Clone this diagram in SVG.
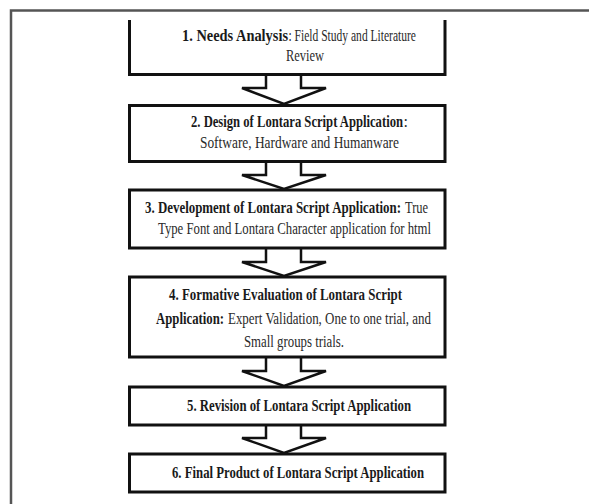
<svg xmlns="http://www.w3.org/2000/svg" width="589" height="504" viewBox="0 0 589 504">
<style>
.frame{fill:none;stroke:#555;stroke-width:2.5}
.box{fill:#fff;stroke:#111;stroke-width:3}
.arr{fill:#fff;stroke:#111;stroke-width:2.5;stroke-linejoin:miter}
text{font-family:"Liberation Serif","Times New Roman",serif;font-size:16px;fill:#1a1a1a}
.b{font-weight:bold}
.r{fill:#2a2a2a}
</style>
<rect width="589" height="504" fill="#fff"/>
<path class="frame" d="M11,504 V10.5 H589"/>
<g id="connectors">
<path class="arr" d="M266,74.5 V88 H242 L284,104 L326,88 H301 V74.5"/>
<path class="arr" d="M266,161.5 V175 H242 L284,189 L326,175 H301 V161.5"/>
<path class="arr" d="M266,248 V262 H242 L284,276 L326,262 H301 V248"/>
<path class="arr" d="M266,357 V371 H242 L284,386 L326,371 H301 V357"/>
<path class="arr" d="M266,425 V438 H242 L284,453 L326,438 H301 V425"/>
</g>
<g id="node1">
<path class="box" d="M129.5,20 V74.5 H445 V20"/>
<text x="182" y="41" textLength="106" lengthAdjust="spacingAndGlyphs" class="b">1. Needs Analysis</text>
<text x="288.5" y="41" textLength="127.5" lengthAdjust="spacingAndGlyphs" class="r">: Field Study and Literature</text>
<text x="286" y="61" textLength="38" lengthAdjust="spacingAndGlyphs" class="r">Review</text>
</g>
<g id="node2">
<rect class="box" x="129.5" y="105.5" width="315.5" height="56"/>
<text x="191" y="127" textLength="212" lengthAdjust="spacingAndGlyphs" class="b">2. Design of Lontara Script Application</text>
<text x="403.5" y="127" class="r">:</text>
<text x="200" y="148" textLength="199" lengthAdjust="spacingAndGlyphs" class="r">Software, Hardware and Humanware</text>
</g>
<g id="node3">
<rect class="box" x="129.5" y="190" width="315.5" height="58"/>
<text x="145" y="213" textLength="256" lengthAdjust="spacingAndGlyphs" class="b">3.  Development of Lontara Script Application:</text>
<text x="405" y="213" textLength="23" lengthAdjust="spacingAndGlyphs" class="r">True</text>
<text x="158" y="234" textLength="273" lengthAdjust="spacingAndGlyphs" class="r">Type Font and Lontara Character application for html</text>
</g>
<g id="node4">
<rect class="box" x="129.5" y="277" width="315.5" height="80"/>
<text x="169" y="300" textLength="233" lengthAdjust="spacingAndGlyphs" class="b">4.  Formative Evaluation of Lontara Script</text>
<text x="156" y="324" textLength="68" lengthAdjust="spacingAndGlyphs" class="b">Application:</text>
<text x="228" y="324" textLength="203" lengthAdjust="spacingAndGlyphs" class="r">Expert Validation, One to one trial, and</text>
<text x="244" y="347" textLength="100" lengthAdjust="spacingAndGlyphs" class="r">Small groups trials.</text>
</g>
<g id="node5">
<rect class="box" x="129.5" y="387" width="315.5" height="38"/>
<text x="187" y="411" textLength="224" lengthAdjust="spacingAndGlyphs" class="b">5. Revision of Lontara Script Application</text>
</g>
<g id="node6">
<rect class="box" x="129.5" y="454" width="315.5" height="38"/>
<text x="172" y="478" textLength="252" lengthAdjust="spacingAndGlyphs" class="b">6. Final Product of Lontara Script Application</text>
</g>
</svg>
